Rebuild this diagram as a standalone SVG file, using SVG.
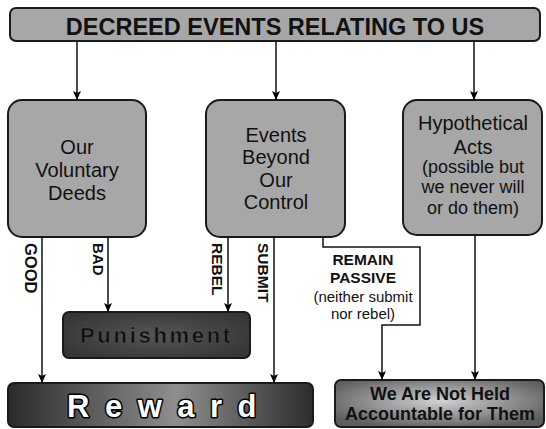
<svg xmlns="http://www.w3.org/2000/svg" width="546" height="429" viewBox="0 0 546 429">
<defs>
<marker id="ah" markerUnits="userSpaceOnUse" markerWidth="10" markerHeight="10" refX="9" refY="4" orient="auto">
<path d="M0,0 L9,4 L0,8 L2,4 z" fill="#000"/>
</marker>
<linearGradient id="gRew" x1="0" y1="0" x2="1" y2="0">
<stop offset="0" stop-color="#2a2a2a"/>
<stop offset="0.55" stop-color="#8e8e8e"/>
<stop offset="1" stop-color="#2c2c2c"/>
</linearGradient>
<radialGradient id="gHeld" cx="0.5" cy="0.45" r="0.6">
<stop offset="0" stop-color="#d2d2d2"/>
<stop offset="1" stop-color="#5e5e5e"/>
</radialGradient>
<radialGradient id="gPun" cx="0.5" cy="0.5" r="0.6">
<stop offset="0" stop-color="#555"/>
<stop offset="1" stop-color="#363636"/>
</radialGradient>
</defs>
<style>
.box{fill:#a7a7a7;stroke:#1a1a1a;stroke-width:2}
.t{font-family:"Liberation Sans",Arial,sans-serif;fill:#111;text-anchor:middle}
.b{font-weight:bold}
.lbl{font-family:"Liberation Sans",Arial,sans-serif;font-weight:bold;fill:#111}
.c{fill:none;stroke:#111;stroke-width:1.5}
</style>
<g id="title">
<rect x="10" y="8" width="530" height="33" rx="6" class="box"/>
<text x="275" y="35" class="t b" font-size="23.5">DECREED EVENTS RELATING TO US</text>
</g>
<g id="voluntary">
<rect x="8" y="100" width="138" height="137" rx="14" class="box"/>
<text class="t" font-size="20"><tspan x="77" y="154">Our</tspan><tspan x="77" y="177">Voluntary</tspan><tspan x="77" y="200">Deeds</tspan></text>
</g>
<g id="beyond">
<rect x="206" y="100" width="139" height="137" rx="14" class="box"/>
<text class="t" font-size="20"><tspan x="276" y="142">Events</tspan><tspan x="276" y="164">Beyond</tspan><tspan x="276" y="187">Our</tspan><tspan x="276" y="209">Control</tspan></text>
</g>
<g id="hypothetical">
<rect x="403" y="100" width="139" height="135" rx="14" class="box"/>
<text class="t" font-size="20"><tspan x="473" y="130">Hypothetical</tspan><tspan x="473" y="154">Acts</tspan></text>
<text class="t" font-size="18"><tspan x="473" y="173">(possible but</tspan><tspan x="473" y="193">we never will</tspan><tspan x="473" y="214">or do them)</tspan></text>
</g>
<g id="punishment">
<rect x="63" y="312" width="187" height="46" rx="6" fill="url(#gPun)" stroke="#1a1a1a" stroke-width="2"/>
<text x="80" y="343" font-family="'Liberation Sans',Arial,sans-serif" font-weight="bold" font-size="22" letter-spacing="2.7" fill="#0e0e0e" stroke="#5a5a5a" stroke-width="0.5">Punishment</text>
</g>
<g id="reward">
<rect x="8" y="383" width="305" height="44" rx="6" fill="url(#gRew)" stroke="#1a1a1a" stroke-width="2"/>
<text x="67" y="417" font-family="'Liberation Sans',Arial,sans-serif" font-weight="bold" font-size="31" letter-spacing="15.5" fill="#fff" stroke="#000" stroke-width="3" paint-order="stroke fill" stroke-linejoin="round">Reward</text>
</g>
<g id="notheld">
<rect x="335" y="380" width="209" height="47" rx="6" fill="url(#gHeld)" stroke="#1a1a1a" stroke-width="2"/>
<text class="t b" font-size="18"><tspan x="440" y="400">We Are Not Held</tspan><tspan x="440" y="420">Accountable for Them</tspan></text>
</g>
<g id="connectors">
<path class="c" d="M77,41 V100" marker-end="url(#ah)"/>
<path class="c" d="M276,41 V100" marker-end="url(#ah)"/>
<path class="c" d="M474,41 V100" marker-end="url(#ah)"/>
<path class="c" d="M42,237 V383" marker-end="url(#ah)"/>
<path class="c" d="M108,237 V312" marker-end="url(#ah)"/>
<path class="c" d="M228,237 V312" marker-end="url(#ah)"/>
<path class="c" d="M274,237 V383" marker-end="url(#ah)"/>
<path class="c" d="M323,237 V247 H420 V325 H382 V380" marker-end="url(#ah)"/>
<path class="c" d="M475,235 V380" marker-end="url(#ah)"/>
<text class="lbl" font-size="16.5" transform="translate(25,243) rotate(90)">GOOD</text>
<text class="lbl" font-size="15" transform="translate(93,243) rotate(90)">BAD</text>
<text class="lbl" font-size="15.5" transform="translate(212,243) rotate(90)">REBEL</text>
<text class="lbl" font-size="15.5" transform="translate(258,243) rotate(90)">SUBMIT</text>
<text class="t b" font-size="15.5"><tspan x="363" y="265">REMAIN</tspan><tspan x="363" y="283">PASSIVE</tspan></text>
<text class="t" font-size="15"><tspan x="363" y="302">(neither submit</tspan><tspan x="363" y="319">nor rebel)</tspan></text>
</g>
</svg>
